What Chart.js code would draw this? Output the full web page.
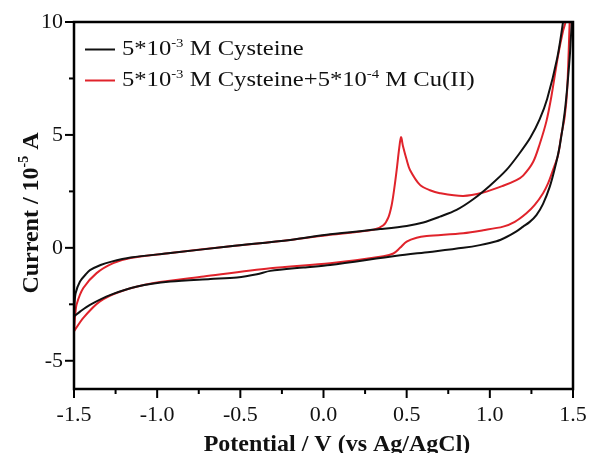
<!DOCTYPE html>
<html><head><meta charset="utf-8">
<script src="https://cdn.jsdelivr.net/npm/chart.js@4/dist/chart.umd.min.js"></script>
<style>html,body{margin:0;padding:0;background:#fff;}</style>
</head><body>
<canvas id="c" width="590" height="453"></canvas>
<script>
// ---- data (potential in V vs Ag/AgCl, current in 10^-5 A) ----
const cysPotential = [-1.5,-1.497,-1.49,-1.464,-1.43,-1.404,-1.34,-1.28,-1.16,-0.92,-0.56,-0.2,0.04,0.34,0.5,0.6,0.7,0.8,0.9,1.0,1.1,1.18,1.243,1.30,1.345,1.405,1.44,1.455,
  1.492,1.485,1.47,1.45,1.42,1.39,1.36,1.32,1.28,1.24,1.2,1.16,1.1,1.04,0.94,0.84,0.64,0.44,0.04,-0.12,-0.32,-0.40,-0.52,-0.68,-0.92,-1.12,-1.28,-1.404,-1.46,-1.5];
const cysCurrent = [-3.04,-2.5,-2.0,-1.49,-1.18,-0.99,-0.76,-0.62,-0.43,-0.23,0.07,0.35,0.6,0.83,0.97,1.12,1.38,1.68,2.15,2.75,3.45,4.2,4.87,5.7,6.6,8.4,10,11,
  11,9,7.5,6.0,4.5,3.5,2.7,1.95,1.45,1.15,0.94,0.73,0.48,0.29,0.12,0.0,-0.18,-0.35,-0.76,-0.87,-1.02,-1.17,-1.31,-1.38,-1.49,-1.71,-2.08,-2.52,-2.8,-3.04];
const cuPotential = [-1.5,-1.493,-1.484,-1.444,-1.364,-1.264,-1.16,-0.92,-0.56,-0.2,0.04,0.30,0.36,0.39,0.41,0.425,0.44,0.455,0.466,0.478,0.50,0.52,0.58,0.64,0.70,0.84,0.96,1.08,1.16,1.20,1.26,1.30,1.34,1.37,1.41,1.44,1.455,1.47,
  1.485,1.48,1.465,1.45,1.43,1.41,1.38,1.35,1.32,1.27,1.22,1.15,1.08,0.96,0.84,0.62,0.56,0.50,0.46,0.42,0.36,0.04,-0.32,-0.72,-1.02,-1.22,-1.344,-1.444,-1.5];
const cuCurrent = [-3.7,-3.0,-2.5,-1.78,-1.12,-0.68,-0.45,-0.23,0.07,0.35,0.58,0.8,1.0,1.35,1.9,2.6,3.45,4.4,4.9,4.5,3.9,3.45,2.79,2.55,2.42,2.3,2.45,2.75,3.0,3.2,3.8,4.6,5.6,6.7,8.5,9.6,10,11,
  11,10,7.0,5.8,5.0,4.1,3.45,2.85,2.42,1.9,1.53,1.15,0.94,0.78,0.65,0.52,0.45,0.28,0.0,-0.25,-0.37,-0.68,-0.9,-1.27,-1.56,-1.93,-2.37,-3.1,-3.7];

const xTickValues = [-1.5,-1.25,-1.0,-0.75,-0.5,-0.25,0,0.25,0.5,0.75,1.0,1.25,1.5];
const yTickValues = [-5,-2.5,0,2.5,5,7.5,10];
const xLabelEvery = 0.5;
const yLabelEvery = 5;

// label runs: [text, isSuperscript]
const legendRuns = [
  [['5*10',false],['-3',true],[' M Cysteine',false]],
  [['5*10',false],['-3',true],[' M Cysteine+5*10',false],['-4',true],[' M Cu(II)',false]]
];
const yTitleRuns = [['Current / 10',false],['-5',true],[' A',false]];
const xTitle = 'Potential / V (vs Ag/AgCl)';
const colors = ['#111111','#e0232b'];

const toXY = (xs, ys) => xs.map((v,i)=>({x:v, y:ys[i]}));
const FAM = '"Liberation Serif", "Times New Roman", serif';

function drawRuns(ctx, runs, size, bold) {
  let x = 0;
  for (const [t, sup] of runs) {
    const fs = sup ? Math.round(size*0.6) : size;
    ctx.font = (bold?'bold ':'') + fs + 'px ' + FAM;
    ctx.fillText(t, x, sup ? -size*0.42 : 0);
    x += ctx.measureText(t).width;
  }
  return x;
}
function runsWidth(ctx, runs, size, bold) {
  let x = 0;
  for (const [t, sup] of runs) {
    const fs = sup ? Math.round(size*0.6) : size;
    ctx.font = (bold?'bold ':'') + fs + 'px ' + FAM;
    x += ctx.measureText(t).width;
  }
  return x;
}

const decor = {
  id: 'decor',
  afterDraw(chart) {
    const {ctx, chartArea:a, scales:{x, y}} = chart;
    ctx.save();
    ctx.strokeStyle = '#000';
    ctx.lineWidth = 2.5;
    ctx.strokeRect(a.left, a.top, a.right - a.left, a.bottom - a.top);
    ctx.lineWidth = 2;
    xTickValues.forEach(v => {
      const px = x.getPixelForValue(v);
      const major = Math.abs(v/xLabelEvery - Math.round(v/xLabelEvery)) < 1e-6;
      ctx.beginPath(); ctx.moveTo(px, a.bottom); ctx.lineTo(px, a.bottom + (major ? 9 : 5)); ctx.stroke();
    });
    yTickValues.forEach(v => {
      const py = y.getPixelForValue(v);
      const major = Math.abs(v/yLabelEvery - Math.round(v/yLabelEvery)) < 1e-6;
      ctx.beginPath(); ctx.moveTo(a.left, py); ctx.lineTo(a.left - (major ? 9 : 5), py); ctx.stroke();
    });
    // legend
    ctx.fillStyle = '#111';
    ctx.textBaseline = 'alphabetic';
    ctx.textAlign = 'left';
    const rowsBase = [55, 86];
    chart.data.datasets.forEach((ds, i) => {
      const base = rowsBase[i];
      ctx.strokeStyle = ds.borderColor;
      ctx.lineWidth = 2;
      ctx.beginPath(); ctx.moveTo(85, base - 5.5); ctx.lineTo(115, base - 5.5); ctx.stroke();
      ctx.save();
      ctx.translate(122, base);
      ctx.scale(1.23, 1);
      drawRuns(ctx, legendRuns[i], 20, false);
      ctx.restore();
    });
    // x title
    ctx.font = 'bold 24px ' + FAM;
    ctx.textAlign = 'center';
    ctx.fillText(xTitle, 337, 451);
    // y title
    ctx.textAlign = 'left';
    const w = runsWidth(ctx, yTitleRuns, 24, true);
    ctx.save();
    ctx.translate(38, 213);
    ctx.rotate(-Math.PI/2);
    ctx.translate(-w/2, 0);
    drawRuns(ctx, yTitleRuns, 24, true);
    ctx.restore();
    ctx.restore();
  }
};

new Chart(document.getElementById('c'), {
  type: 'scatter',
  data: {
    datasets: [
      {label: 'Cysteine', data: toXY(cysPotential, cysCurrent), borderColor: colors[0]},
      {label: 'Cysteine + Cu(II)', data: toXY(cuPotential, cuCurrent), borderColor: colors[1]}
    ].map(d => Object.assign(d, {showLine: true, pointRadius: 0, borderWidth: 2, tension: 0.3, fill: false}))
  },
  options: {
    responsive: false,
    animation: false,
    layout: {padding: {left: 0, right: 17, top: 22, bottom: 0}},
    plugins: {legend: {display: false}, tooltip: {enabled: false}},
    scales: {
      x: {
        type: 'linear', min: -1.5, max: 1.5,
        afterBuildTicks: s => { s.ticks = xTickValues.map(v => ({value: v})); },
        afterFit: s => { s.height = 64; s.paddingLeft = 0; s.paddingRight = 0; },
        grid: {display: false, drawTicks: false},
        border: {display: false},
        ticks: {
          autoSkip: false, maxRotation: 0, padding: 13, color: '#111',
          font: {family: FAM, size: 22},
          callback: v => Math.abs(v/xLabelEvery - Math.round(v/xLabelEvery)) < 1e-6 ? v.toFixed(1) : ''
        }
      },
      y: {
        type: 'linear', min: -6.25, max: 10,
        afterBuildTicks: s => { s.ticks = yTickValues.map(v => ({value: v})); },
        afterFit: s => { s.width = 74; s.paddingTop = 0; s.paddingBottom = 0; },
        grid: {display: false, drawTicks: false},
        border: {display: false},
        ticks: {
          autoSkip: false, padding: 11, color: '#111',
          font: {family: FAM, size: 22},
          callback: v => Math.abs(v/yLabelEvery - Math.round(v/yLabelEvery)) < 1e-6 ? String(v) : ''
        }
      }
    }
  },
  plugins: [decor]
});
</script>
</body></html>
